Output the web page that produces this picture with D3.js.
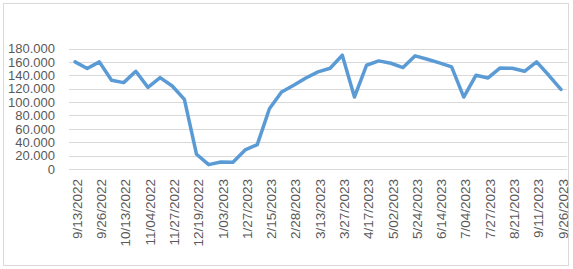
<!DOCTYPE html>
<html>
<head>
<meta charset="utf-8">
<script src="https://cdn.jsdelivr.net/npm/d3@7"></script>
<style>
  html, body { margin: 0; padding: 0; background: #fff; }
  svg { display: block; }
  text { font-family: "Liberation Sans", Arial, sans-serif; fill: #595959; }
</style>
</head>
<body>
<svg id="chart" width="573" height="269"></svg>
<script>
const dates = [
  "9/13/2022","9/19/2022","9/26/2022","10/04/2022","10/13/2022","10/24/2022","11/04/2022","11/15/2022",
  "11/27/2022","12/08/2022","12/19/2022","12/27/2022","1/03/2023","1/16/2023","1/27/2023","2/06/2023",
  "2/15/2023","2/21/2023","2/28/2023","3/07/2023","3/13/2023","3/20/2023","3/27/2023","4/05/2023",
  "4/17/2023","4/25/2023","5/02/2023","5/12/2023","5/24/2023","6/02/2023","6/14/2023","6/23/2023",
  "7/04/2023","7/17/2023","7/27/2023","8/09/2023","8/21/2023","8/31/2023","9/11/2023","9/18/2023","9/26/2023"
];
const values = [
  160000,150000,160000,132500,129000,146000,122000,136500,124000,104000,
  22000,6500,10500,10000,28500,36500,90000,115000,125000,136000,
  145000,150500,170000,107500,155000,161500,158000,151500,169000,164000,
  158500,152500,107500,140000,136000,151000,150500,146000,160000,140000,119000
];
const yTicks = [0,20000,40000,60000,80000,100000,120000,140000,160000,180000];
const labelEvery = 2;

const svg = d3.select("#chart");
const plot = { left: 69, right: 567, top: 48.5, bottom: 169 };

svg.append("rect").attr("x", 3.5).attr("y", 3.5).attr("width", 565).attr("height", 262)
  .attr("fill", "#fff").attr("stroke", "#d9d9d9").attr("stroke-width", 1);

const x = d3.scaleBand().domain(dates).range([plot.left, plot.right]).padding(0);
const y = d3.scaleLinear().domain([0, 180000]).range([plot.bottom, plot.top]);

const loc = d3.formatLocale({ decimal: ",", thousands: ".", grouping: [3], currency: ["", ""] });
const fmt = loc.format(",.0f");

// gridlines
svg.append("g").selectAll("line").data(yTicks).join("line")
  .attr("x1", plot.left).attr("x2", plot.right)
  .attr("y1", d => Math.round(y(d)) + 0.5).attr("y2", d => Math.round(y(d)) + 0.5)
  .attr("stroke", "#d9d9d9").attr("stroke-width", 1);

// y axis labels
const yAxis = d3.axisLeft(y).tickValues(yTicks).tickFormat(fmt).tickSize(0).tickPadding(0);
const gy = svg.append("g").attr("transform", `translate(55,0)`).call(yAxis);
gy.select(".domain").remove();
gy.selectAll("text").attr("font-size", "13px").attr("fill", "#595959")
  .style("font-family", "'Liberation Sans', Arial, sans-serif");

// x axis labels
const xAxis = d3.axisBottom(x)
  .tickValues(dates.filter((d, i) => i % labelEvery === 0))
  .tickSize(0).tickPadding(0);
const gx = svg.append("g").attr("transform", `translate(0,${plot.bottom})`).call(xAxis);
gx.select(".domain").remove();
gx.selectAll("text")
  .attr("font-size", "13.5px").attr("fill", "#595959")
  .style("font-family", "'Liberation Sans', Arial, sans-serif")
  .attr("text-anchor", "end")
  .attr("transform", "translate(2,10) rotate(-90)")
  .attr("x", 0).attr("y", 0).attr("dy", "0.35em");

// line
const line = d3.line()
  .x((d, i) => x(dates[i]) + x.bandwidth() / 2)
  .y(d => y(d));
svg.append("path").datum(values)
  .attr("d", line)
  .attr("fill", "none")
  .attr("stroke", "#5b9bd5")
  .attr("stroke-width", 3.5)
  .attr("stroke-linejoin", "round")
  .attr("stroke-linecap", "round");
</script>
</body>
</html>
